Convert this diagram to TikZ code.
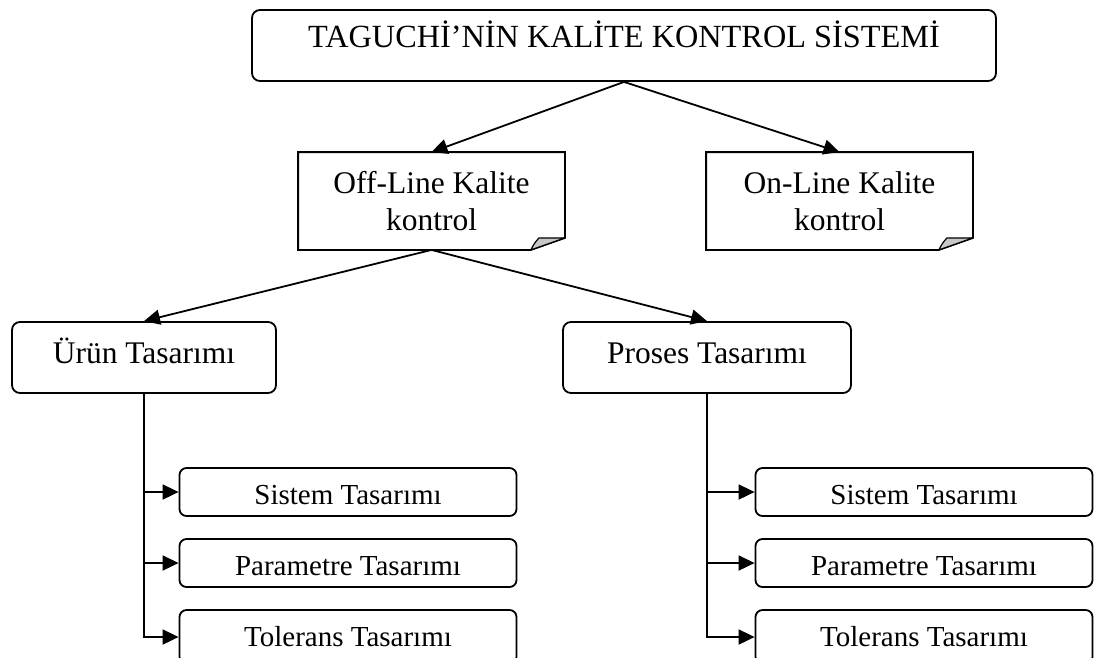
\documentclass[tikz,border=0pt]{standalone}
\usepackage{fontspec}
\setmainfont{Liberation Serif}
\usetikzlibrary{arrows.meta}
\begin{document}
\begin{tikzpicture}[x=1pt,y=-1pt,line width=1.8pt,
  bigbox/.style={draw,rounded corners=8pt,inner sep=0pt,align=center,
    font=\fontsize{31.5}{37}\selectfont},
  notebox/.style={inner sep=0pt,minimum width=265pt,minimum height=96pt,align=center,
    font=\fontsize{31.5}{37}\selectfont},
  smallbox/.style={draw,rounded corners=7pt,inner sep=0pt,minimum width=337pt,
    minimum height=48pt,font=\fontsize{29}{34}\selectfont,text height=25pt,text depth=0pt},
  arr/.style={-{Triangle[length=16pt,width=15pt]}},
  fold/.style={fill=black!22,line width=1.2pt,line join=round}]

% top box
\node[bigbox,minimum width=744pt,minimum height=71pt,text height=22pt,text depth=19pt,
  font=\fontsize{32.3}{37}\selectfont]
  (top) at (624,45.5) {TAGUCHİ’NİN KALİTE KONTROL SİSTEMİ};

% note boxes
\node[notebox] (off) at (431.5,201) {Off-Line Kalite\\kontrol};
\node[notebox] (on) at (839.5,201) {On-Line Kalite\\kontrol};
\foreach \n in {off,on}{
  \draw[line join=miter] (\n.north west) -- (\n.north east) -- ([yshift=12pt]\n.south east)
    -- ([xshift=-34pt]\n.south east) -- (\n.south west) -- cycle;
  \draw[fold] ([xshift=-34pt]\n.south east) .. controls ([xshift=-31pt,yshift=6pt]\n.south east)
    .. ([xshift=-26pt,yshift=12pt]\n.south east) -- ([yshift=12pt]\n.south east) -- cycle;
}

% second level
\node[bigbox,minimum width=264pt,minimum height=71pt,text height=22pt,text depth=11pt]
  (urun) at (144,357.5) {Ürün Tasarımı};
\node[bigbox,minimum width=288pt,minimum height=71pt,text height=22pt,text depth=11pt]
  (proses) at (707,357.5) {Proses Tasarımı};

% small boxes
\node[smallbox] (sis1) at (348,492) {Sistem Tasarımı};
\node[smallbox] (par1) at (348,563) {Parametre Tasarımı};
\node[smallbox,minimum height=54pt,text height=22pt,text depth=3pt] (tol1) at (348,637) {Tolerans Tasarımı};
\node[smallbox] (sis2) at (924,492) {Sistem Tasarımı};
\node[smallbox] (par2) at (924,563) {Parametre Tasarımı};
\node[smallbox,minimum height=54pt,text height=22pt,text depth=3pt] (tol2) at (924,637) {Tolerans Tasarımı};

% connectors
\draw[arr] (top.south) -- (off.north);
\draw[arr] (top.south) -- (on.north);
\draw[arr] (off.south) -- (urun.north);
\draw[arr] (off.south) -- (proses.north);

\draw[arr] (urun.south) |- (tol1.west);
\draw[arr] (urun.south |- sis1.west) -- (sis1.west);
\draw[arr] (urun.south |- par1.west) -- (par1.west);
\draw[arr] (proses.south) |- (tol2.west);
\draw[arr] (proses.south |- sis2.west) -- (sis2.west);
\draw[arr] (proses.south |- par2.west) -- (par2.west);

\pgfresetboundingbox
\path[use as bounding box] (0,0) rectangle (1099,657);
\end{tikzpicture}
\end{document}
